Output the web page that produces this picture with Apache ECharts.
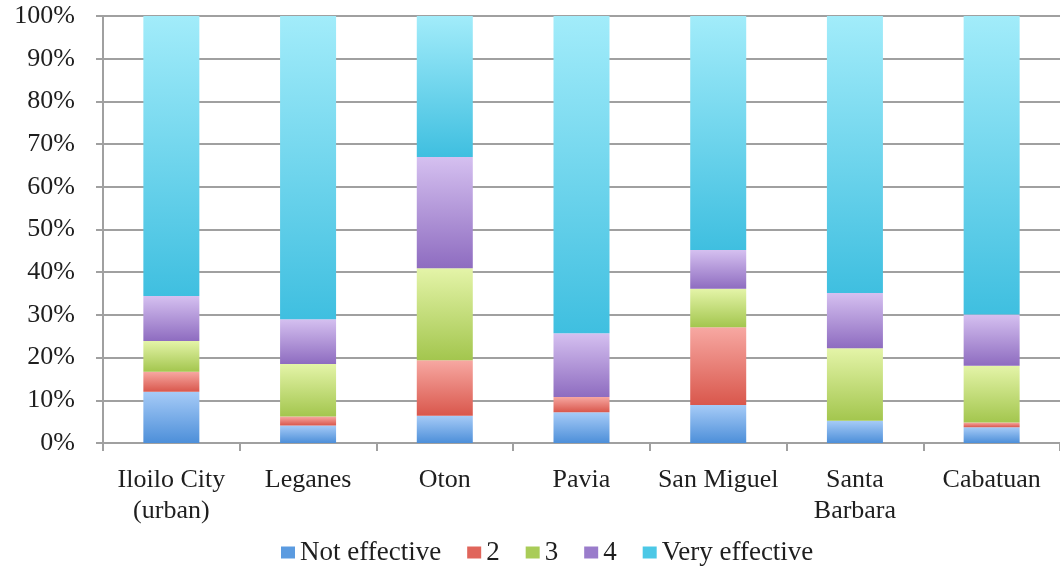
<!DOCTYPE html>
<html>
<head>
<meta charset="utf-8">
<script src="https://cdn.jsdelivr.net/npm/echarts@6/dist/echarts.min.js"></script>
<style>
  html, body { margin: 0; padding: 0; background: #ffffff; }
  #chart { width: 1060px; height: 568px; }
</style>
</head>
<body>
<div id="chart"></div>
<script>
// Municipalities surveyed
const categories = ['Iloilo City\n(urban)', 'Leganes', 'Oton', 'Pavia', 'San Miguel', 'Santa\nBarbara', 'Cabatuan'];

// Share of responses per rating (percent of respondents)
const notEffective  = [12.0, 4.1, 6.4, 7.2, 8.9, 5.2, 3.7];
const rating2       = [4.7, 2.1, 13.0, 3.6, 18.2, 0.0, 1.1];
const rating3       = [7.2, 12.3, 21.5, 0.0, 9.0, 17.0, 13.3];
const rating4       = [10.5, 10.5, 26.1, 14.9, 9.1, 12.9, 12.0];
const veryEffective = [65.6, 71.0, 33.0, 74.3, 54.8, 64.9, 69.9];

const yTicks = [0, 10, 20, 30, 40, 50, 60, 70, 80, 90, 100];

const FONT = 'Liberation Serif';

function grad(top, bottom) {
  return new echarts.graphic.LinearGradient(0, 0, 0, 1, [
    { offset: 0, color: top },
    { offset: 1, color: bottom }
  ]);
}

const seriesDefs = [
  { name: 'Not effective',  data: notEffective,  top: '#a6cbf7', bottom: '#4d8fd9', legend: '#5b9be0' },
  { name: '2',              data: rating2,       top: '#f7a8a2', bottom: '#d9574c', legend: '#e0655b' },
  { name: '3',              data: rating3,       top: '#e4f4a8', bottom: '#a3c64e', legend: '#a9cc58' },
  { name: '4',              data: rating4,       top: '#d5c0f0', bottom: '#8e6cc0', legend: '#9a7ccb' },
  { name: 'Very effective', data: veryEffective, top: '#a2ecfa', bottom: '#3fbfe0', legend: '#4cc8e6' }
];

const chart = echarts.init(document.getElementById('chart'), null, { renderer: 'canvas' });

chart.setOption({
  backgroundColor: '#ffffff',
  animation: false,
  grid: { left: 103, right: 0, top: 16, bottom: 125, containLabel: false },
  legend: {
    bottom: -3,
    left: 276,
    itemWidth: 14,
    itemHeight: 12,
    itemGap: 26,
    icon: 'rect',
    textStyle: { fontFamily: FONT, fontSize: 27, color: '#1e1e1e' },
    data: seriesDefs.map(s => ({ name: s.name, itemStyle: { color: s.legend } }))
  },
  xAxis: {
    type: 'category',
    data: categories,
    axisLine: { lineStyle: { color: '#a0a0a0', width: 2 } },
    axisTick: { show: true, length: 8, lineStyle: { color: '#a0a0a0', width: 2 } },
    axisLabel: { fontFamily: FONT, fontSize: 26, color: '#1e1e1e', margin: 22, lineHeight: 31, interval: 0 }
  },
  yAxis: {
    type: 'value',
    min: 0,
    max: 100,
    interval: 10,
    axisLine: { show: true, lineStyle: { color: '#a0a0a0', width: 2 } },
    axisTick: { show: true, length: 7, lineStyle: { color: '#a0a0a0', width: 2 } },
    splitLine: { lineStyle: { color: '#a0a0a0', width: 2 } },
    axisLabel: {
      fontFamily: FONT, fontSize: 26, color: '#1e1e1e', margin: 28,
      formatter: v => (yTicks.indexOf(v) >= 0 ? v + '%' : '')
    }
  },
  series: seriesDefs.map(s => ({
    name: s.name,
    type: 'bar',
    stack: 'total',
    barWidth: 56,
    data: s.data,
    itemStyle: { color: grad(s.top, s.bottom) }
  }))
});
</script>
</body>
</html>
